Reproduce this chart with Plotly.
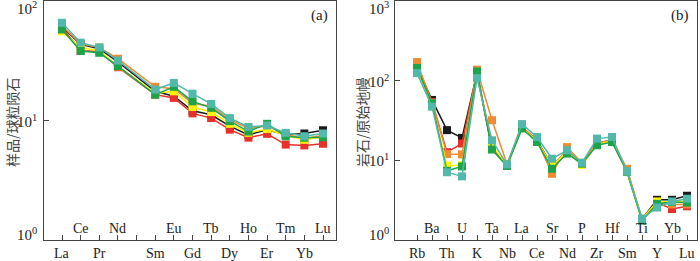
import plotly.graph_objects as go

# ---------------- data ----------------
ree = ["La", "Ce", "Pr", "Nd", "Pm", "Sm", "Eu", "Gd", "Tb", "Dy", "Ho", "Er", "Tm", "Yb", "Lu"]
ree_top = ["Ce", "Nd", "Eu", "Tb", "Ho", "Tm", "Lu"]
ree_bottom = ["La", "Pr", "Sm", "Gd", "Dy", "Er", "Yb"]

spider = ["Rb", "Ba", "Th", "U", "K", "Ta", "Nb", "La", "Ce", "Sr", "Nd", "P", "Zr", "Hf", "Sm", "Ti", "Y", "Yb", "Lu"]
spider_top = ["Ba", "U", "Ta", "La", "Sr", "P", "Hf", "Ti", "Yb"]
spider_bottom = ["Rb", "Th", "K", "Nb", "Ce", "Nd", "Zr", "Sm", "Y", "Lu"]

series_names = ["black", "red", "orange", "yellow", "green", "teal"]
colors = ["#1a1a1a", "#e8302b", "#f08a33", "#fff200", "#1fa34a", "#52b8aa"]

# REE chondrite-normalised (Pm = None)
ree_black  = [61, 43.5, 40, 31, None, 17.6, 16.0, 12.1, 11.2, 9.0, 7.6, 8.4, 7.6, 7.8, 8.3]
ree_red    = [60, 38.5, 38, 28, None, 16.5, 15.5, 11.5, 10.5, 8.4, 7.2, 7.75, 6.3, 6.2, 6.4]
ree_orange = [62, 44, 41, 33, None, 19.2, 18.5, 14.0, 13.2, 10.2, 8.6, 9.0, 7.7, 7.1, 7.5]
ree_yellow = [56, 40.8, 38.5, 28.5, None, 17.0, 17.6, 13.0, 11.8, 9.4, 7.9, 8.5, 7.5, 6.9, 7.3]
ree_green  = [58, 38.3, 37, 28.6, None, 16.5, 19.2, 14.5, 12.8, 9.9, 8.1, 9.4, 7.4, 7.2, 7.25]
ree_teal   = [66, 45, 41, 31.9, None, 18.2, 20.7, 16.8, 13.8, 10.5, 8.85, 9.1, 7.9, 7.4, 7.8]

# Primitive-mantle-normalised
sp_black  = [150, 57.5, 24, 19.2, 125, 14, 8.8, 26, 18, 8.5, 13, 9.3, 16.5, 18, 7.3, 1.83, 3.2, 3.2, 3.6]
sp_red    = [155, 54, 12.7, 16.3, 128, 14.5, 8.8, 26, 18, 8.3, 13, 9.2, 16.5, 17.9, 7.3, 1.83, 2.95, 2.45, 2.65]
sp_orange = [172, 53, 12.0, 11.9, 138, 32, 9.0, 26, 18, 6.8, 14.7, 9.3, 16.5, 18, 7.85, 1.85, 2.95, 2.8, 2.8]
sp_yellow = [140, 50, 8.6, 8.7, 122, 15.5, 8.6, 25.5, 17.5, 8.5, 12.8, 8.8, 16, 17.5, 7.2, 1.8, 3.05, 3.0, 3.1]
sp_green  = [145, 52, 7.4, 8.4, 131, 13.7, 8.5, 25.2, 17, 7.85, 12.2, 9.1, 15.5, 17, 7.2, 1.75, 2.85, 3.0, 2.95]
sp_teal   = [125, 47.3, 7.1, 6.3, 108, 17.9, 8.9, 28.6, 19.7, 10.5, 13.4, 9.35, 18.8, 19.7, 7.3, 1.85, 2.56, 3.05, 3.3]

ree_series = [ree_black, ree_red, ree_orange, ree_yellow, ree_green, ree_teal]
sp_series = [sp_black, sp_red, sp_orange, sp_yellow, sp_green, sp_teal]

ree_ytick_vals = [1, 10, 100]
ree_ytick_text = ["10<sup>0</sup>", "10<sup>1</sup>", "10<sup>2</sup>"]
sp_ytick_vals = [1, 10, 100, 1000]
sp_ytick_text = ["10<sup>0</sup>", "10<sup>1</sup>", "10<sup>2</sup>", "10<sup>3</sup>"]

# ---------------- figure ----------------
W, H = 700, 261
fig = go.Figure()

for name, col, vals in zip(series_names, colors, ree_series):
    fig.add_trace(go.Scatter(
        x=list(range(len(ree))), y=vals, mode="lines+markers", name=name,
        connectgaps=True,
        line=dict(color=col, width=1.5),
        marker=dict(symbol="square", size=8, color=col, line=dict(width=0)),
        xaxis="x", yaxis="y", showlegend=False))

for name, col, vals in zip(series_names, colors, sp_series):
    fig.add_trace(go.Scatter(
        x=list(range(len(spider))), y=vals, mode="lines+markers", name=name,
        line=dict(color=col, width=1.5),
        marker=dict(symbol="square", size=8, color=col, line=dict(width=0)),
        xaxis="x2", yaxis="y2", showlegend=False))

y_bot_px, y_top_px = 240, 1
ydom = [(H - y_bot_px) / H, (H - y_top_px) / H]

l_left, l_right = 44, 336
l_first, l_last = 62, 323
l_unit = (l_last - l_first) / (len(ree) - 1)
l_range = [(l_left - l_first) / l_unit, (len(ree) - 1) + (l_right - l_last) / l_unit]

r_left, r_right = 395, 697
r_first, r_last = 417, 687
r_unit = (r_last - r_first) / (len(spider) - 1)
r_range = [(r_left - r_first) / r_unit, (len(spider) - 1) + (r_right - r_last) / r_unit]

axis_font = dict(family="Liberation Serif", size=14, color="#222")
ylab_font = dict(family="Liberation Serif", size=15, color="#222")
common_x = dict(showgrid=False, zeroline=False, showline=True, linecolor="#444", linewidth=1,
                mirror=True, ticks="inside", ticklen=5, tickcolor="#444",
                showticklabels=False)
common_y = dict(type="log", showgrid=False, zeroline=False, showline=True, linecolor="#444",
                linewidth=1, mirror=True, ticks="inside", ticklen=5, tickcolor="#444",
                showticklabels=False, domain=ydom)

fig.update_layout(
    width=W, height=H, margin=dict(l=0, r=0, t=0, b=0),
    paper_bgcolor="white", plot_bgcolor="white",
    xaxis=dict(domain=[l_left / W, l_right / W], range=l_range,
               tickmode="array", tickvals=list(range(len(ree))), **common_x),
    yaxis=dict(range=[0, 2.002], tickvals=ree_ytick_vals, **common_y),
    xaxis2=dict(domain=[r_left / W, r_right / W], range=r_range, anchor="y2",
                tickmode="array", tickvals=list(range(len(spider))), **common_x),
    yaxis2=dict(range=[0, 3.003], anchor="x2", tickvals=sp_ytick_vals, **common_y),
)

ann = []
top_y = (H - 228) / H
bot_y = (H - 253) / H
for i, el in enumerate(ree):
    if el in ree_top:
        ann.append(dict(x=i, y=top_y, xref="x", yref="paper", text=el, showarrow=False,
                        font=axis_font, xanchor="center", yanchor="middle"))
    elif el in ree_bottom:
        ann.append(dict(x=i, y=bot_y, xref="x", yref="paper", text=el, showarrow=False,
                        font=axis_font, xanchor="center", yanchor="middle"))
for i, el in enumerate(spider):
    if el in spider_top:
        ann.append(dict(x=i, y=top_y, xref="x2", yref="paper", text=el, showarrow=False,
                        font=axis_font, xanchor="center", yanchor="middle"))
    elif el in spider_bottom:
        ann.append(dict(x=i, y=bot_y, xref="x2", yref="paper", text=el, showarrow=False,
                        font=axis_font, xanchor="center", yanchor="middle"))

# y tick labels (placed by hand so that the top ones are not hidden at the page edge)
ree_label_px = [234, 121, 8]
for v, t, py in zip(ree_ytick_vals, ree_ytick_text, ree_label_px):
    ann.append(dict(x=39 / W, y=(H - py) / H, xref="paper", yref="paper", text=t,
                    showarrow=False, font=ylab_font, xanchor="right", yanchor="middle"))
sp_label_px = [234, 160, 81, 8]
for v, t, py in zip(sp_ytick_vals, sp_ytick_text, sp_label_px):
    ann.append(dict(x=391 / W, y=(H - py) / H, xref="paper", yref="paper", text=t,
                    showarrow=False, font=ylab_font, xanchor="right", yanchor="middle"))

ann.append(dict(x=(l_right - 6) / W, y=(H - 15) / H, xref="paper", yref="paper", text="(a)",
                showarrow=False, font=dict(family="Liberation Serif", size=15, color="#222"),
                xanchor="right", yanchor="middle"))
ann.append(dict(x=(r_right - 6) / W, y=(H - 15) / H, xref="paper", yref="paper", text="(b)",
                showarrow=False, font=dict(family="Liberation Serif", size=15, color="#222"),
                xanchor="right", yanchor="middle"))

title_font = dict(family="Noto Sans CJK SC", size=14, color="#444")
ann.append(dict(x=12 / W, y=(H - 122) / H, xref="paper", yref="paper", text="样品/球粒陨石",
                showarrow=False, textangle=-90, font=title_font, xanchor="center", yanchor="middle"))
ann.append(dict(x=362 / W, y=(H - 122) / H, xref="paper", yref="paper", text="岩石/原始地幔",
                showarrow=False, textangle=-90, font=title_font, xanchor="center", yanchor="middle"))

fig.update_layout(annotations=ann)
fig.write_html("out.html", config={"displayModeBar": False},
               post_script="document.body.style.margin='0';document.body.style.padding='0';")
